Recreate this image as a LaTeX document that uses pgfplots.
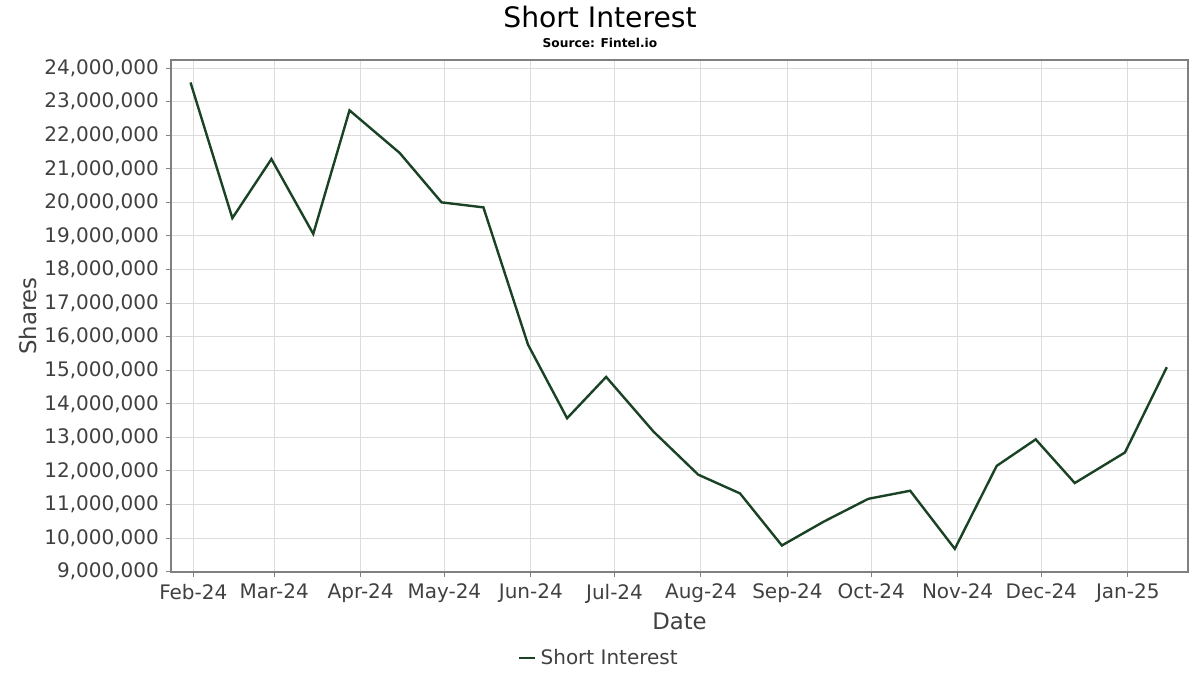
\documentclass[border=0pt]{standalone}
\usepackage{pgfplots}
\pgfplotsset{compat=1.18}
\usepackage{fontspec}
\setmainfont{DejaVu Sans}
\definecolor{linegreen}{RGB}{26,66,36}
\definecolor{txtgray}{RGB}{64,64,64}
\definecolor{gridgray}{RGB}{220,220,220}
\definecolor{framegray}{RGB}{128,128,128}
\pgfplotstableread{
day value
-1 23570000
14 19530000
28 21290000
43 19060000
56 22740000
74 21470000
89 20000000
104 19850000
120 15760000
134 13570000
148 14800000
165 13170000
181 11890000
196 11330000
211 9780000
226 10490000
242 11170000
257 11410000
273 9680000
288 12150000
302 12940000
316 11640000
334 12550000
349 15090000
}\sidata
\begin{document}
\begin{tikzpicture}
\path[use as bounding box] (0,0) rectangle (600pt,337.5pt);
\begin{axis}[
  at={(85.5pt,51.5pt)}, anchor=south west,
  scale only axis, width=508.5pt, height=256pt,
  xmin=-8, xmax=356.6, ymin=8990000, ymax=24240000,
  xtick={0,29,60,90,121,151,182,213,243,274,304,335},
  xticklabels={Feb-24,Mar-24,Apr-24,May-24,Jun-24,Jul-24,Aug-24,Sep-24,Oct-24,Nov-24,Dec-24,Jan-25},
  ytick={9000000,10000000,11000000,12000000,13000000,14000000,15000000,16000000,17000000,18000000,19000000,20000000,21000000,22000000,23000000,24000000},
  scaled y ticks=false,
  yticklabel style={/pgf/number format/.cd, fixed, 1000 sep={,}, assume math mode=true},
  ticklabel style={font=\fontsize{10}{12}\selectfont, text=txtgray},
  xtick pos=lower, ytick pos=left, tick align=outside,
  major tick length=2.5pt,
  tick style={framegray, line width=0.5pt},
  grid=major, major grid style={gridgray, line width=0.5pt},
  axis line style={framegray, line width=0.6pt},
  xlabel={Date}, ylabel={Shares},
  label style={font=\fontsize{11.4}{13}\selectfont, text=txtgray},
  xlabel style={at={(axis description cs:0.5,0)}, anchor=center, yshift=-24.5pt},
  ylabel style={at={(axis description cs:0,0.5)}, anchor=center, rotate=0, yshift=71.5pt},
  legend style={draw=none, fill=none, at={(axis description cs:0.4218,-0.168)}, anchor=center,
    font=\fontsize{10}{12}\selectfont, text=txtgray, inner sep=1pt},
  legend cell align=left,
  legend image code/.code={\draw[#1] (0pt,0pt) -- (8pt,0pt);},
]
\addplot[linegreen, line width=1.2pt, line join=miter] table[x=day, y=value] {\sidata};
\addlegendentry{Short Interest}
\end{axis}
\node[anchor=center, font=\fontsize{14.1}{16}\selectfont] at (300pt,329pt) {Short Interest};
\node[anchor=center, font=\bfseries\fontsize{6.1}{7}\selectfont] at (300pt,316pt) {Source: Fintel.io};
\end{tikzpicture}
\end{document}
